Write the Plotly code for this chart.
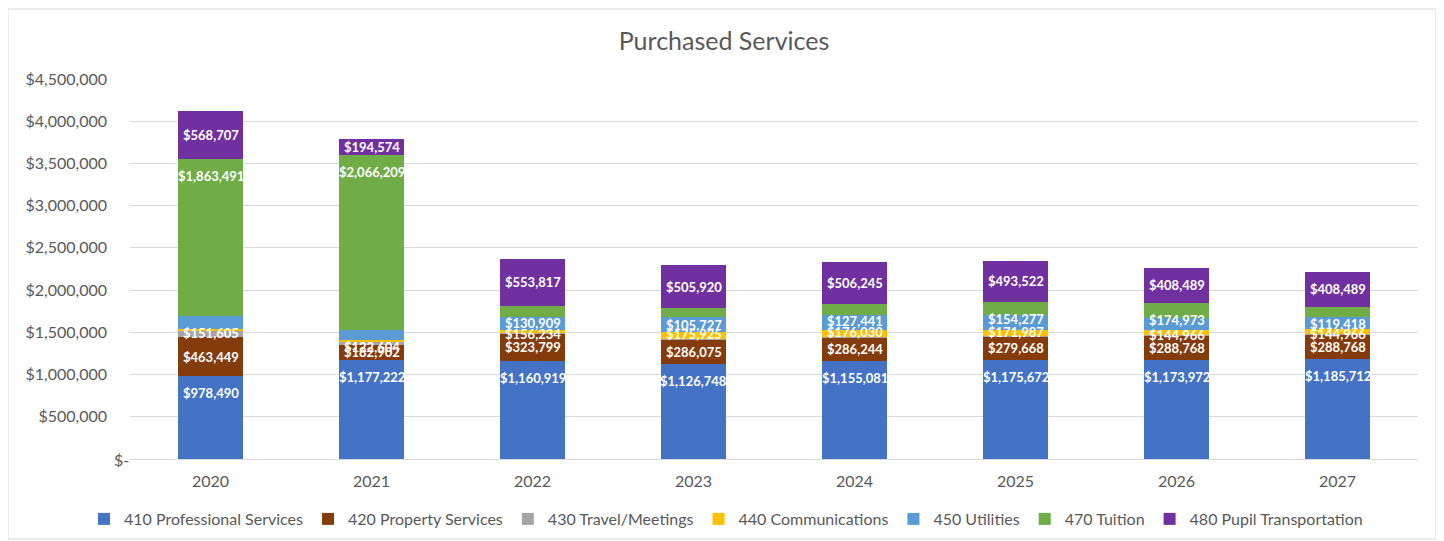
import plotly.graph_objects as go

YEARS = ["2020", "2021", "2022", "2023", "2024", "2025", "2026", "2027"]

PROFESSIONAL = [978490, 1177222, 1160919, 1126748, 1155081, 1175672, 1173972, 1185712]
PROPERTY = [463449, 182902, 323799, 286075, 286244, 279668, 288768, 288768]
TRAVEL = [75000, 20000, 12000, 5000, 5000, 5000, 3000, 3000]
COMMUNICATIONS = [25000, 30000, 32000, 88000, 80000, 70000, 65000, 62000]
UTILITIES = [151605, 122604, 156234, 175925, 176030, 171987, 144966, 144966]
TUITION = [1863491, 2066209, 130909, 105727, 127441, 154277, 174973, 119418]
PUPIL = [568707, 194574, 553817, 505920, 506245, 493522, 408489, 408489]

Y_TICKS = [0, 500000, 1000000, 1500000, 2000000, 2500000, 3000000, 3500000, 4000000, 4500000]

GREY_TXT = "#595959"
FONT = "Lato"

# page body has an 8px margin, so the figure is laid out 8px smaller
W, H = 1436, 533
L, R, T, B = 122, 26, 71, 82
PW, PH = W - L - R, H - T - B

# name, values, colour, label mode (None = no labels)
series = [
    ("410 Professional Services", PROFESSIONAL, "#4472C4", "end"),
    ("420 Property Services", PROPERTY, "#843C0C", "mid"),
    ("430 Travel/Meetings", TRAVEL, "#A5A5A5", None),
    ("440 Communications", COMMUNICATIONS, "#FFC000", None),
    ("450 Utilities", UTILITIES, "#5B9BD5", "end"),
    ("470 Tuition", TUITION, "#70AD47", "end"),
    ("480 Pupil Transportation", PUPIL, "#7030A0", "mid"),
]

fig = go.Figure()
annotations = []
base = [0] * len(YEARS)
for name, vals, color, mode in series:
    fig.add_trace(go.Bar(x=YEARS, y=vals, name=name, marker_color=color,
                         marker_line_width=0))
    if mode:
        for i, v in enumerate(vals):
            if mode == "end":
                y, shift = base[i] + v, -17
            else:
                y, shift = base[i] + v / 2, 0
            # category index as x (numeric strings would be read as positions)
            annotations.append(dict(x=i, y=y, yshift=shift, text=f"${v:,.0f}",
                                    showarrow=False, xref="x", yref="y",
                                    font=dict(family=FONT, size=13, color="white", weight="bold")))
    base = [b + v for b, v in zip(base, vals)]

# accounting-style zero label sits further right than the others
annotations.append(dict(x=1 / PW, xref="paper", xanchor="right", y=0, yref="y",
                        text="$-", showarrow=False,
                        font=dict(family=FONT, size=16, color=GREY_TXT)))

# chart border
border = [dict(type="rect", xref="paper", yref="paper",
               x0=(0 - L) / PW, x1=(1428 - L) / PW,
               y0=(T + PH - 531) / PH, y1=(T + PH - 1) / PH,
               line=dict(color="#D9D9D9", width=1), layer="below")]

fig.update_layout(
    width=W, height=H,
    barmode="stack", bargap=0.6,
    paper_bgcolor="white", plot_bgcolor="white",
    margin=dict(l=L, r=R, t=T, b=B, autoexpand=False),
    title=dict(text="Purchased Services", x=(716 - L) / PW, xref="paper", xanchor="center",
               y=1 - 33 / H, yref="container", yanchor="middle",
               font=dict(family=FONT, size=25, color=GREY_TXT)),
    font=dict(family=FONT, size=16, color=GREY_TXT),
    legend=dict(orientation="h", x=(718 - L) / PW, xanchor="center",
                y=(T + PH - 511) / PH, yanchor="middle", traceorder="normal",
                itemwidth=30, font=dict(family=FONT, size=16, color=GREY_TXT)),
    annotations=annotations,
    shapes=border,
)
fig.update_xaxes(type="category", range=[-0.5, len(YEARS) - 0.5], showgrid=False,
                 showline=True, linecolor="#D9D9D9", linewidth=1, ticks="",
                 ticklabelstandoff=8, tickfont=dict(size=16, color=GREY_TXT))
fig.update_yaxes(range=[0, 4500000], tickvals=Y_TICKS,
                 ticktext=[""] + [f"${v:,.0f}" for v in Y_TICKS[1:]],
                 showgrid=True, gridcolor="#D9D9D9", gridwidth=1, zeroline=False,
                 ticks="", ticklabelstandoff=22, tickfont=dict(size=16, color=GREY_TXT))

fig.write_html("out.html")
